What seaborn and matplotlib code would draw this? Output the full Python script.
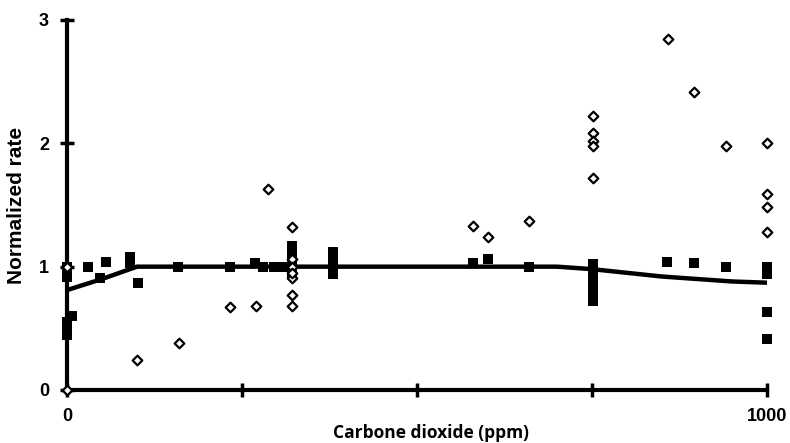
import numpy as np
import pandas as pd
import matplotlib
matplotlib.use("Agg")
import matplotlib.pyplot as plt
import seaborn as sns

# Filled squares (measured)
sq_x = [0, 0, 0, 0, 0, 0, 7, 30, 47, 56, 90, 90, 101, 159,
        233, 269, 280, 295, 309, 321, 321, 321, 321, 321,
        380, 380, 380, 380, 580, 601, 660,
        751, 751, 751, 751, 751, 751, 857, 896, 941, 1000, 1000, 1000, 1000]
sq_y = [1.0, 0.96, 0.92, 0.55, 0.5, 0.45, 0.6, 1.0, 0.91, 1.04, 1.03, 1.08, 0.87, 1.0,
        1.0, 1.03, 1.0, 1.0, 1.0, 0.95, 1.0, 1.05, 1.1, 1.17,
        0.94, 1.0, 1.06, 1.12, 1.03, 1.06, 1.0,
        0.72, 0.78, 0.84, 0.9, 0.96, 1.02, 1.04, 1.03, 1.0, 1.0, 0.94, 0.63, 0.41]

# Open diamonds
dm_x = [0, 0, 100, 160, 233, 270, 287, 321, 321, 321, 321, 321, 321, 321,
        580, 601, 660, 752, 752, 752, 752, 752, 859, 896, 941,
        1000, 1000, 1000, 1000]
dm_y = [0.0, 1.0, 0.24, 0.38, 0.67, 0.68, 1.63, 1.32, 1.06, 1.0, 0.91, 0.77, 0.68, 0.95,
        1.33, 1.24, 1.37, 2.22, 2.08, 2.02, 1.98, 1.72, 2.85, 2.42, 1.98,
        2.0, 1.59, 1.48, 1.28]

# Fitted curve
fit_x = [0, 50, 100, 200, 300, 400, 500, 600, 700, 750, 800, 850, 900, 950, 1000]
fit_y = [0.81, 0.9, 1.0, 1.0, 1.0, 1.0, 1.0, 1.0, 1.0, 0.98, 0.95, 0.92, 0.9, 0.88, 0.87]

x_ticks = [0, 250, 500, 750, 1000]
x_tick_labels = ["0", "", "", "", "1000"]
y_ticks = [0, 1, 2, 3]
y_tick_labels = ["0", "1", "2", "3"]

sns.set_theme(style="white")
plt.rcParams['font.family'] = ['Liberation Sans', 'DejaVu Sans']
plt.rcParams['text.color'] = 'black'
plt.rcParams['axes.labelcolor'] = 'black'
plt.rcParams['xtick.color'] = 'black'
plt.rcParams['ytick.color'] = 'black'

fig = plt.figure(figsize=(7.9, 4.43), dpi=100)
ax = fig.add_axes([67/790, 1-390/443, 700/790, 370/443])

sq = pd.DataFrame({"x": sq_x, "y": sq_y})
dm = pd.DataFrame({"x": dm_x, "y": dm_y})
fit = pd.DataFrame({"x": fit_x, "y": fit_y})

sns.lineplot(data=fit, x="x", y="y", ax=ax, color="black", linewidth=3.2, zorder=3)
sns.scatterplot(data=sq, x="x", y="y", ax=ax, marker="s", s=60, color="black",
                edgecolor="black", linewidth=0, zorder=4, clip_on=False)
sns.scatterplot(data=dm, x="x", y="y", ax=ax, marker="D", s=24, facecolor="white",
                edgecolor="black", linewidth=1.6, zorder=5, clip_on=False)

ax.set_xlim(0, 1000)
ax.set_ylim(0, 3)
ax.set_xticks(x_ticks)
ax.set_xticklabels(x_tick_labels, fontsize=13, fontweight="bold", color="black")
ax.set_yticks(y_ticks)
ax.set_yticklabels(y_tick_labels, fontsize=13, fontweight="bold", color="black")

for s in ["top", "right"]:
    ax.spines[s].set_visible(False)
for s in ["left", "bottom"]:
    ax.spines[s].set_linewidth(3)
    ax.spines[s].set_color("black")
    ax.spines[s].set_zorder(2)

ax.tick_params(axis="both", direction="inout", length=10, width=2.5, color="black",
               left=True, bottom=True)
ax.tick_params(axis="y", pad=8)
ax.tick_params(axis="x", pad=8)

ax.set_xlabel("Carbone dioxide (ppm)", fontsize=12.5, fontweight="bold",
              family="Open Sans", color="black")
ax.set_ylabel("Normalized rate", fontsize=15, fontweight="bold", color="black")
ax.xaxis.set_label_coords(0.52, -0.093)
ax.yaxis.set_label_coords(-0.058, 0.5)

fig.savefig("out.png", dpi=100, facecolor="white")
